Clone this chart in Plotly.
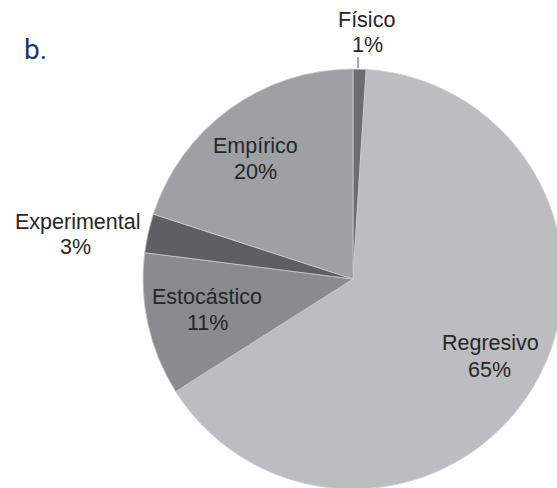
import plotly.graph_objects as go

labels = ["Físico", "Regresivo", "Estocástico", "Experimental", "Empírico"]
values = [1, 65, 11, 3, 20]
colors = ["#6c6d70", "#bcbdc0", "#8a8b8e", "#5e5f62", "#9fa0a3"]
# label anchor points (page pixels: name line x,y / percent line x,y)
label_xy = [(366, 20, 367, 45), (490, 343, 489, 370), (207, 297, 207, 323),
            (77, 222, 75, 247), (255, 146, 255, 172)]

# figure is a bit larger than the 557x488 window so the pie is cropped like the original
W, H = 566, 492
cx, cy, r = 353, 279, 210

def px(x):
    return x / W

def py(y):
    return 1 - y / H

fig = go.Figure(go.Pie(
    labels=labels,
    values=values,
    sort=False,
    direction="clockwise",
    rotation=0,
    marker=dict(colors=colors, line=dict(color="#c9cacc", width=0.8)),
    textinfo="none",
    showlegend=False,
    hoverinfo="skip",
    domain=dict(x=[px(cx - r), px(cx + r)], y=[py(cy + r), py(cy - r)]),
))

total = sum(values)
font = dict(family="Liberation Sans, Arial, sans-serif", size=21.5, color="#262626")
for lab, val, (x1, y1, x2, y2) in zip(labels, values, label_xy):
    fig.add_annotation(text=lab, x=px(x1), y=py(y1), xref="paper", yref="paper",
                       xanchor="center", yanchor="middle", showarrow=False, font=font)
    fig.add_annotation(text=f"{round(100 * val / total)}%", x=px(x2), y=py(y2),
                       xref="paper", yref="paper", xanchor="center", yanchor="middle",
                       showarrow=False, font=font)

# leader line for the small "Físico" slice
fig.add_shape(type="line", xref="paper", yref="paper",
              x0=px(358), x1=px(358), y0=py(57), y1=py(68),
              line=dict(color="#555555", width=1))

fig.add_annotation(
    text="b.", x=px(22), y=py(49), xref="paper", yref="paper",
    xanchor="left", yanchor="middle", showarrow=False,
    font=dict(family="Liberation Sans Narrow, Roboto, sans-serif", size=28, color="#1d3566"),
)

fig.update_layout(
    width=W, height=H,
    margin=dict(l=0, r=0, t=0, b=0),
    paper_bgcolor="white", plot_bgcolor="white",
)

fig.write_html(
    "out.html",
    config={"displayModeBar": False},
    post_script="document.documentElement.style.overflow='hidden';"
                "document.body.style.margin='0';document.body.style.overflow='hidden';",
)
